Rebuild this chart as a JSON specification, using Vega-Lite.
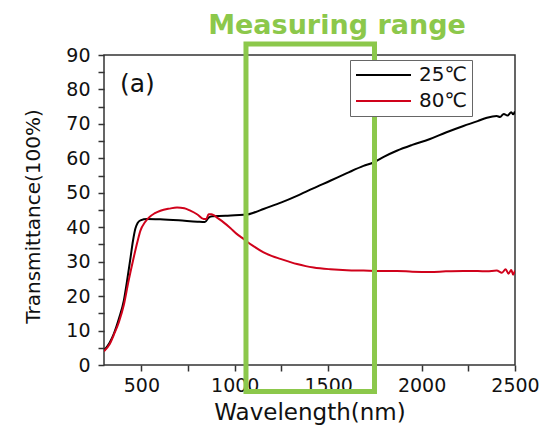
{
  "$schema": "https://vega.github.io/schema/vega-lite/v6.json",
  "width": 411,
  "height": 310,
  "autosize": {"type": "none"},
  "padding": {"left": 104, "top": 55, "right": 26, "bottom": 64},
  "background": "white",
  "config": {"view": {"stroke": "#333", "strokeWidth": 1.5}, "font": "DejaVu Sans", "axis": {"labelOverlap": false, "labelBound": false, "labelFlush": false}},
  "encoding": {
    "x": {"field": "wavelength", "type": "quantitative", "scale": {"domain": [300, 2500], "nice": false, "zero": false},
      "axis": {"title": "Wavelength(nm)", "values": [500, 750, 1000, 1250, 1500, 1750, 2000, 2250, 2500], "format": "d",
        "labelExpr": "datum.value % 500 === 0 ? datum.label : ''", "labelOverlap": false,
        "tickSize": 6,
        "tickColor": "#333", "tickWidth": 1.5, "domain": false, "grid": false,
        "labelFont": "DejaVu Sans", "labelFontSize": 19, "labelColor": "#111", "labelPadding": 5,
        "titleFont": "DejaVu Sans", "titleFontSize": 23, "titleFontWeight": "normal", "titleColor": "#111",
        "titleY": 36, "titleBaseline": "top"}},
    "y": {"field": "transmittance", "type": "quantitative", "scale": {"domain": [0, 90], "nice": false},
      "axis": {"title": "Transmittance(100%)", "values": [0, 5, 10, 15, 20, 25, 30, 35, 40, 45, 50, 55, 60, 65, 70, 75, 80, 85, 90],
        "labelExpr": "datum.value % 10 === 0 ? datum.label : ''", "labelOverlap": false,
        "tickSize": 6,
        "tickColor": "#333", "tickWidth": 1.5, "domain": false, "grid": false,
        "labelFont": "DejaVu Sans", "labelFontSize": 19, "labelColor": "#111", "labelPadding": 8,
        "titleFont": "DejaVu Sans", "titleFontSize": 20, "titleFontWeight": "normal", "titleColor": "#111",
        "titleX": -71, "titleY": 161, "titleAngle": -90, "titleAlign": "center", "titleBaseline": "middle"}}
  },
  "layer": [
    {
      "data": {"values": [
        {"series": "25℃", "wavelength": 300, "transmittance": 4.2},
        {"series": "25℃", "wavelength": 330, "transmittance": 6.5},
        {"series": "25℃", "wavelength": 352, "transmittance": 9},
        {"series": "25℃", "wavelength": 380, "transmittance": 13.5},
        {"series": "25℃", "wavelength": 406, "transmittance": 18.7},
        {"series": "25℃", "wavelength": 425, "transmittance": 25},
        {"series": "25℃", "wavelength": 442, "transmittance": 31.2},
        {"series": "25℃", "wavelength": 455, "transmittance": 36},
        {"series": "25℃", "wavelength": 468, "transmittance": 39.6},
        {"series": "25℃", "wavelength": 480, "transmittance": 41.2},
        {"series": "25℃", "wavelength": 495, "transmittance": 42},
        {"series": "25℃", "wavelength": 531, "transmittance": 42.4},
        {"series": "25℃", "wavelength": 600, "transmittance": 42.3},
        {"series": "25℃", "wavelength": 700, "transmittance": 42.0},
        {"series": "25℃", "wavelength": 800, "transmittance": 41.6},
        {"series": "25℃", "wavelength": 840, "transmittance": 41.5},
        {"series": "25℃", "wavelength": 860, "transmittance": 42.8},
        {"series": "25℃", "wavelength": 880, "transmittance": 43.2},
        {"series": "25℃", "wavelength": 950, "transmittance": 43.3},
        {"series": "25℃", "wavelength": 1000, "transmittance": 43.5},
        {"series": "25℃", "wavelength": 1066, "transmittance": 43.7},
        {"series": "25℃", "wavelength": 1100, "transmittance": 44.2},
        {"series": "25℃", "wavelength": 1154, "transmittance": 45.3},
        {"series": "25℃", "wavelength": 1250, "transmittance": 47.2},
        {"series": "25℃", "wavelength": 1333, "transmittance": 49.1},
        {"series": "25℃", "wavelength": 1420, "transmittance": 51.3},
        {"series": "25℃", "wavelength": 1511, "transmittance": 53.5},
        {"series": "25℃", "wavelength": 1600, "transmittance": 55.7},
        {"series": "25℃", "wavelength": 1689, "transmittance": 57.8},
        {"series": "25℃", "wavelength": 1742, "transmittance": 58.8},
        {"series": "25℃", "wavelength": 1800, "transmittance": 60.5},
        {"series": "25℃", "wavelength": 1867, "transmittance": 62.2},
        {"series": "25℃", "wavelength": 1950, "transmittance": 63.9},
        {"series": "25℃", "wavelength": 2045, "transmittance": 65.6},
        {"series": "25℃", "wavelength": 2130, "transmittance": 67.5},
        {"series": "25℃", "wavelength": 2224, "transmittance": 69.4},
        {"series": "25℃", "wavelength": 2300, "transmittance": 70.8},
        {"series": "25℃", "wavelength": 2350, "transmittance": 71.8},
        {"series": "25℃", "wavelength": 2402, "transmittance": 72.3},
        {"series": "25℃", "wavelength": 2420, "transmittance": 72.0},
        {"series": "25℃", "wavelength": 2440, "transmittance": 72.9},
        {"series": "25℃", "wavelength": 2460, "transmittance": 72.4},
        {"series": "25℃", "wavelength": 2480, "transmittance": 73.4},
        {"series": "25℃", "wavelength": 2490, "transmittance": 72.8},
        {"series": "25℃", "wavelength": 2500, "transmittance": 73.6},
        {"series": "80℃", "wavelength": 300, "transmittance": 4},
        {"series": "80℃", "wavelength": 330, "transmittance": 6},
        {"series": "80℃", "wavelength": 352, "transmittance": 8.7},
        {"series": "80℃", "wavelength": 380, "transmittance": 12.5},
        {"series": "80℃", "wavelength": 406, "transmittance": 17.4},
        {"series": "80℃", "wavelength": 430, "transmittance": 24},
        {"series": "80℃", "wavelength": 459, "transmittance": 31.2},
        {"series": "80℃", "wavelength": 480, "transmittance": 36},
        {"series": "80℃", "wavelength": 495, "transmittance": 39},
        {"series": "80℃", "wavelength": 520, "transmittance": 41.5},
        {"series": "80℃", "wavelength": 540, "transmittance": 42.8},
        {"series": "80℃", "wavelength": 570, "transmittance": 44},
        {"series": "80℃", "wavelength": 602, "transmittance": 44.8},
        {"series": "80℃", "wavelength": 650, "transmittance": 45.4},
        {"series": "80℃", "wavelength": 691, "transmittance": 45.7},
        {"series": "80℃", "wavelength": 730, "transmittance": 45.5},
        {"series": "80℃", "wavelength": 762, "transmittance": 44.8},
        {"series": "80℃", "wavelength": 800, "transmittance": 43.7},
        {"series": "80℃", "wavelength": 834, "transmittance": 42.4},
        {"series": "80℃", "wavelength": 848, "transmittance": 42.4},
        {"series": "80℃", "wavelength": 860, "transmittance": 43.8},
        {"series": "80℃", "wavelength": 875, "transmittance": 43.8},
        {"series": "80℃", "wavelength": 887, "transmittance": 43.5},
        {"series": "80℃", "wavelength": 910, "transmittance": 42.6},
        {"series": "80℃", "wavelength": 940, "transmittance": 41.4},
        {"series": "80℃", "wavelength": 976, "transmittance": 39.8},
        {"series": "80℃", "wavelength": 1012, "transmittance": 38},
        {"series": "80℃", "wavelength": 1040, "transmittance": 36.9},
        {"series": "80℃", "wavelength": 1066, "transmittance": 35.8},
        {"series": "80℃", "wavelength": 1100, "transmittance": 34.5},
        {"series": "80℃", "wavelength": 1154, "transmittance": 32.7},
        {"series": "80℃", "wavelength": 1200, "transmittance": 31.6},
        {"series": "80℃", "wavelength": 1244, "transmittance": 30.8},
        {"series": "80℃", "wavelength": 1290, "transmittance": 30},
        {"series": "80℃", "wavelength": 1333, "transmittance": 29.3},
        {"series": "80℃", "wavelength": 1380, "transmittance": 28.7},
        {"series": "80℃", "wavelength": 1422, "transmittance": 28.3},
        {"series": "80℃", "wavelength": 1511, "transmittance": 27.8},
        {"series": "80℃", "wavelength": 1600, "transmittance": 27.5},
        {"series": "80℃", "wavelength": 1689, "transmittance": 27.4},
        {"series": "80℃", "wavelength": 1780, "transmittance": 27.3},
        {"series": "80℃", "wavelength": 1867, "transmittance": 27.3},
        {"series": "80℃", "wavelength": 1950, "transmittance": 27.1},
        {"series": "80℃", "wavelength": 2045, "transmittance": 27.0},
        {"series": "80℃", "wavelength": 2130, "transmittance": 27.2},
        {"series": "80℃", "wavelength": 2224, "transmittance": 27.3},
        {"series": "80℃", "wavelength": 2300, "transmittance": 27.3},
        {"series": "80℃", "wavelength": 2350, "transmittance": 27.2},
        {"series": "80℃", "wavelength": 2402, "transmittance": 27.4},
        {"series": "80℃", "wavelength": 2430, "transmittance": 26.8},
        {"series": "80℃", "wavelength": 2450, "transmittance": 27.8},
        {"series": "80℃", "wavelength": 2465, "transmittance": 26.5},
        {"series": "80℃", "wavelength": 2480, "transmittance": 27.6},
        {"series": "80℃", "wavelength": 2490, "transmittance": 26.2},
        {"series": "80℃", "wavelength": 2500, "transmittance": 27.4}
      ]},
      "mark": {"type": "line", "strokeWidth": 2, "clip": true, "interpolate": "monotone"},
      "encoding": {
        "color": {"field": "series", "type": "nominal",
          "scale": {"domain": ["25℃", "80℃"], "range": ["#000000", "#d0021b"]},
          "legend": {"title": null, "orient": "none", "legendX": 246, "legendY": 5,
            "symbolType": "stroke", "symbolSize": 3025, "symbolStrokeWidth": 2,
            "clipHeight": 20, "rowPadding": 6, "padding": 5, "strokeColor": "#666", "fillColor": "white",
            "labelFont": "DejaVu Sans", "labelFontSize": 20, "labelOffset": 7, "labelColor": "#111"}}
      }
    },
    {
      "data": {"values": [{"label": "(a)", "wavelength": 479, "transmittance": 81.6}]},
      "mark": {"type": "text", "fontSize": 25, "font": "DejaVu Sans", "color": "#111"},
      "encoding": {"text": {"field": "label"}}
    },
    {
      "data": {"values": [{"label": "Measuring range", "wavelength": 1547, "transmittance": 96}]},
      "mark": {"type": "text", "fontSize": 27, "fontWeight": "bold", "font": "DejaVu Sans", "color": "#8cc84b", "baseline": "alphabetic", "align": "center", "clip": false},
      "encoding": {"text": {"field": "label"}}
    },
    {
      "data": {"values": [{"wavelength": 1060, "wavelength_end": 1748, "transmittance": 93.2, "transmittance_end": -7.7}]},
      "mark": {"type": "rect", "fillOpacity": 0, "stroke": "#8cc84b", "strokeWidth": 5, "clip": false},
      "encoding": {
        "x2": {"field": "wavelength_end"},
        "y2": {"field": "transmittance_end"}
      }
    }
  ]
}
